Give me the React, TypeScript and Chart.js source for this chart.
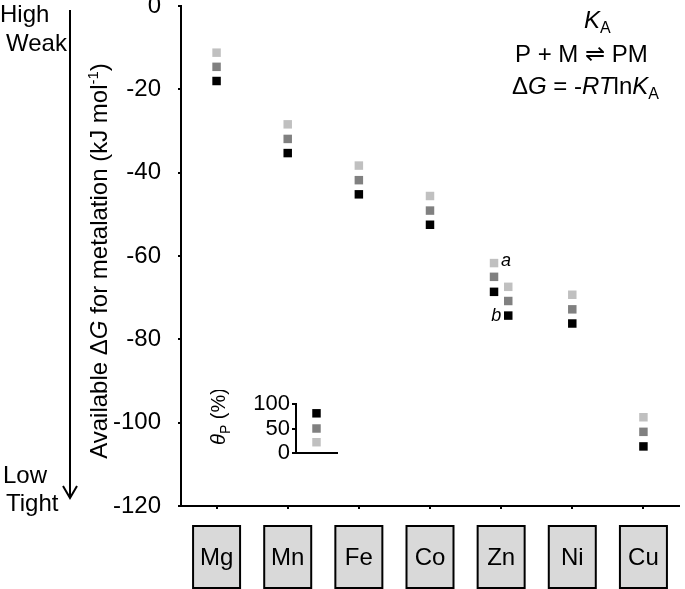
import React, { useEffect, useRef } from 'react';
import { Chart, registerables } from 'chart.js';

Chart.register(...registerables);

// ---------------- data ----------------
const categories = ['Mg', 'Mn', 'Fe', 'Co', 'Zn', 'Ni', 'Cu'];
// available ΔG (kJ/mol) at three θP levels (low = light, mid = grey, high = black)
const lowThetaValues = [-11.2, -28.4, -38.3, -45.6, -61.7, -69.3, -98.7];
const midThetaValues = [-14.6, -31.9, -41.8, -49.1, -65.0, -72.8, -102.2];
const highThetaValues = [-18.0, -35.3, -45.2, -52.5, -68.6, -76.2, -105.7];
// second Zn column ("b"), low / mid / high θP
const znBValues = [-67.4, -70.8, -74.3];
const yTickValues = [0, -20, -40, -60, -80, -100, -120];
// inset legend: θP (%) for low / mid / high
const insetTickValues = [0, 50, 100];
const insetThetaValues = [22, 50, 81];
const seriesColors = ['#c0c0c0', '#808080', '#000000'];

const ZN_SPLIT = 0.1;
const FONT = "'Liberation Sans', Arial, Helvetica, sans-serif";

type Run = { t: string; italic?: boolean; size?: number; dy?: number };

function drawRuns(
  ctx: CanvasRenderingContext2D,
  runs: Run[],
  x: number,
  y: number,
  baseSize: number,
  align: 'left' | 'center' | 'right'
) {
  const fontOf = (r: Run) => `${r.italic ? 'italic ' : ''}${r.size ?? baseSize}px ${FONT}`;
  const widths = runs.map((r) => {
    ctx.font = fontOf(r);
    return ctx.measureText(r.t).width;
  });
  const total = widths.reduce((a, b) => a + b, 0);
  let cx = align === 'left' ? x : align === 'center' ? x - total / 2 : x - total;
  ctx.textAlign = 'left';
  ctx.textBaseline = 'alphabetic';
  runs.forEach((r, i) => {
    ctx.font = fontOf(r);
    ctx.fillText(r.t, cx, y + (r.dy ?? 0));
    cx += widths[i];
  });
}

const boxPlugin = {
  id: 'categoryBoxes',
  beforeDraw(chart: any) {
    const ctx = chart.ctx as CanvasRenderingContext2D;
    const xs = chart.scales.x;
    ctx.save();
    categories.forEach((_, i) => {
      const px = xs.getPixelForValue(i);
      ctx.fillStyle = '#d9d9d9';
      ctx.fillRect(px - 23.5, 526, 47, 62);
      ctx.strokeStyle = '#000';
      ctx.lineWidth = 2;
      ctx.strokeRect(px - 23.5, 526, 47, 62);
    });
    ctx.restore();
  },
};

const annotPlugin = {
  id: 'annotations',
  afterDraw(chart: any) {
    const ctx = chart.ctx as CanvasRenderingContext2D;
    const xs = chart.scales.x;
    const ys = chart.scales.y;
    ctx.save();
    ctx.fillStyle = '#000';
    ctx.strokeStyle = '#000';

    // left side labels and arrow
    drawRuns(ctx, [{ t: 'High' }], 0, 22, 24, 'left');
    drawRuns(ctx, [{ t: 'Weak' }], 6, 51, 24, 'left');
    drawRuns(ctx, [{ t: 'Low' }], 3, 483, 24, 'left');
    drawRuns(ctx, [{ t: 'Tight' }], 6, 511, 24, 'left');
    ctx.lineWidth = 2;
    ctx.beginPath();
    ctx.moveTo(70, 10);
    ctx.lineTo(70, 497);
    ctx.stroke();
    ctx.beginPath();
    ctx.moveTo(63, 486);
    ctx.lineTo(70, 498);
    ctx.lineTo(77, 486);
    ctx.stroke();

    // y axis title
    ctx.save();
    ctx.translate(107, 261);
    ctx.rotate(-Math.PI / 2);
    drawRuns(
      ctx,
      [
        { t: 'Available Δ' },
        { t: 'G', italic: true },
        { t: ' for metalation (kJ mol' },
        { t: '-1', size: 15, dy: -9 },
        { t: ')' },
      ],
      0,
      0,
      24,
      'center'
    );
    ctx.restore();

    // equation
    drawRuns(ctx, [{ t: 'K', italic: true }, { t: 'A', size: 16, dy: 5 }], 584, 28, 24, 'left');
    drawRuns(ctx, [{ t: 'P + M ⇌ PM' }], 515, 62, 24, 'left');
    drawRuns(
      ctx,
      [
        { t: 'Δ' },
        { t: 'G', italic: true },
        { t: ' = -' },
        { t: 'RT', italic: true },
        { t: 'ln' },
        { t: 'K', italic: true },
        { t: 'A', size: 16, dy: 5 },
      ],
      512,
      94,
      24,
      'left'
    );

    // a / b labels for Zn columns
    const zn = categories.indexOf('Zn');
    const ax = xs.getPixelForValue(zn - ZN_SPLIT);
    const ay = ys.getPixelForValue(lowThetaValues[zn]);
    drawRuns(ctx, [{ t: 'a', italic: true }], ax + 7, ay + 3, 18, 'left');
    const bx = xs.getPixelForValue(zn + ZN_SPLIT);
    const by = ys.getPixelForValue(znBValues[2]);
    drawRuns(ctx, [{ t: 'b', italic: true }], bx - 7, by + 5, 18, 'right');

    ctx.restore();
  },
};

const insetTitlePlugin = {
  id: 'insetTitle',
  afterDraw(chart: any) {
    const ctx = chart.ctx as CanvasRenderingContext2D;
    const area = chart.chartArea;
    ctx.save();
    ctx.fillStyle = '#000';
    ctx.translate(area.left - 71, 26.5);
    ctx.rotate(-Math.PI / 2);
    drawRuns(
      ctx,
      [{ t: 'θ', italic: true }, { t: 'P', size: 14, dy: 5 }, { t: ' (%)' }],
      0,
      0,
      20,
      'center'
    );
    ctx.restore();
  },
};

export default function App() {
  const mainRef = useRef<HTMLCanvasElement>(null);
  const insetRef = useRef<HTMLCanvasElement>(null);

  useEffect(() => {
    const zn = categories.indexOf('Zn');
    const xPos = (i: number) => (i === zn ? i - ZN_SPLIT : i);
    const series = [lowThetaValues, midThetaValues, highThetaValues];

    const datasets = series.map((vals, s) => ({
      label: ['low', 'mid', 'high'][s],
      data: [
        ...vals.map((v, i) => ({ x: xPos(i), y: v })),
        { x: zn + ZN_SPLIT, y: znBValues[s] },
      ],
      backgroundColor: seriesColors[s],
      borderColor: seriesColors[s],
      borderWidth: 0,
      pointStyle: 'rect',
      pointRadius: 6,
      pointHoverRadius: 6,
      showLine: false,
    }));

    const main = new Chart(mainRef.current!, {
      type: 'scatter',
      data: { datasets },
      options: {
        responsive: false,
        animation: false,
        events: [],
        layout: { padding: { top: 4, left: 0, right: 0, bottom: 0 } },
        plugins: { legend: { display: false }, tooltip: { enabled: false } },
        scales: {
          x: {
            type: 'linear',
            min: -0.5,
            max: 6.5,
            afterBuildTicks: (scale: any) => {
              scale.ticks = categories.map((_, i) => ({ value: i }));
            },
            afterFit: (scale: any) => {
              scale.height = 83;
              scale.paddingLeft = 0;
              scale.paddingRight = 0;
            },
            ticks: {
              callback: (v: any) => categories[v as number],
              font: { family: FONT, size: 24 },
              color: '#000',
              padding: 35,
              maxRotation: 0,
              autoSkip: false,
            },
            grid: { drawOnChartArea: false, drawTicks: true, tickLength: 3, color: '#000', lineWidth: 2 },
            border: { display: true, color: '#000', width: 2 },
          },
          y: {
            type: 'linear',
            min: -120,
            max: 0,
            afterBuildTicks: (scale: any) => {
              scale.ticks = yTickValues.map((v) => ({ value: v }));
            },
            afterFit: (scale: any) => {
              scale.width = 181;
              scale.paddingTop = 0;
              scale.paddingBottom = 0;
            },
            ticks: {
              callback: (v: any) => String(v),
              font: { family: FONT, size: 24 },
              color: '#000',
              padding: 17,
              autoSkip: false,
            },
            grid: { drawOnChartArea: false, drawTicks: true, tickLength: 3, color: '#000', lineWidth: 2 },
            border: { display: true, color: '#000', width: 2 },
          },
        },
      } as any,
      plugins: [boxPlugin, annotPlugin],
    });

    const insetDatasets = insetThetaValues.map((v, s) => ({
      label: ['low', 'mid', 'high'][s],
      data: [v],
      backgroundColor: seriesColors[s],
      borderColor: seriesColors[s],
      borderWidth: 0,
      pointStyle: 'rect',
      pointRadius: 6,
      pointHoverRadius: 6,
      showLine: false,
    }));

    const inset = new Chart(insetRef.current!, {
      type: 'line',
      data: { labels: [''], datasets: insetDatasets },
      options: {
        responsive: false,
        animation: false,
        events: [],
        layout: { padding: { top: 14, left: 0, right: 13, bottom: 0 } },
        plugins: { legend: { display: false }, tooltip: { enabled: false } },
        scales: {
          x: {
            type: 'category',
            offset: true,
            afterFit: (scale: any) => {
              scale.height = 17;
              scale.paddingLeft = 0;
              scale.paddingRight = 0;
            },
            ticks: { display: false },
            grid: { drawOnChartArea: false, drawTicks: false },
            border: { display: true, color: '#000', width: 2 },
          },
          y: {
            type: 'linear',
            min: 0,
            max: 100,
            afterBuildTicks: (scale: any) => {
              scale.ticks = insetTickValues.map((v) => ({ value: v }));
            },
            afterFit: (scale: any) => {
              scale.width = 96;
              scale.paddingTop = 0;
              scale.paddingBottom = 0;
            },
            ticks: {
              callback: (v: any) => String(v),
              font: { family: FONT, size: 22 },
              color: '#000',
              padding: 2,
              autoSkip: false,
            },
            grid: { drawOnChartArea: false, drawTicks: true, tickLength: 4, color: '#000', lineWidth: 2 },
            border: { display: true, color: '#000', width: 2 },
          },
        },
      } as any,
      plugins: [insetTitlePlugin],
    });

    return () => {
      main.destroy();
      inset.destroy();
    };
  }, []);

  return (
    <div style={{ position: 'absolute', left: 0, top: 0, width: 685, height: 589, background: '#fff' }}>
      <canvas ref={mainRef} width={685} height={589} style={{ position: 'absolute', left: 0, top: 0 }} />
      <canvas ref={insetRef} width={150} height={80} style={{ position: 'absolute', left: 200, top: 390 }} />
    </div>
  );
}
